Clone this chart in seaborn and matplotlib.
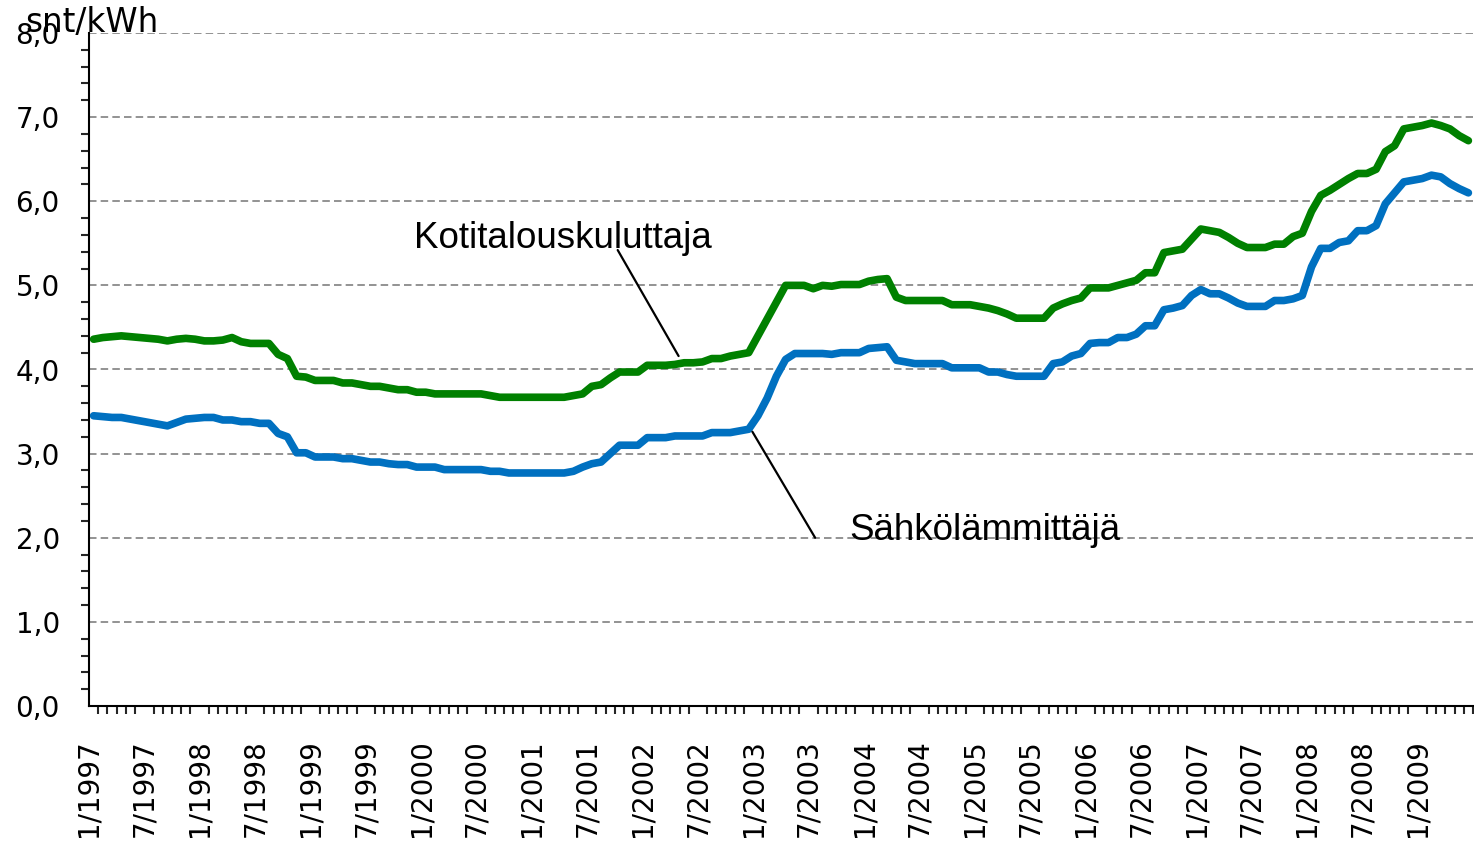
import matplotlib
matplotlib.use("Agg")
import matplotlib.pyplot as plt
import seaborn as sns
import numpy as np
import pandas as pd

# sähkön hinta, snt/kWh, kuukausittain 1/1997 - 6/2009
kotitalous = [
    4.36, 4.38, 4.39, 4.40, 4.39, 4.38, 4.37, 4.36, 4.34, 4.36,
    4.37, 4.36, 4.34, 4.34, 4.35, 4.38, 4.33, 4.31, 4.31, 4.31,
    4.18, 4.13, 3.92, 3.91, 3.87, 3.87, 3.87, 3.84, 3.84, 3.82,
    3.80, 3.80, 3.78, 3.76, 3.76, 3.73, 3.73, 3.71, 3.71, 3.71,
    3.71, 3.71, 3.71, 3.69, 3.67, 3.67, 3.67, 3.67, 3.67, 3.67,
    3.67, 3.67, 3.69, 3.71, 3.80, 3.82, 3.90, 3.97, 3.97, 3.97,
    4.05, 4.05, 4.05, 4.06, 4.08, 4.08, 4.09, 4.13, 4.13, 4.16,
    4.18, 4.20, 4.40, 4.60, 4.80, 5.00, 5.00, 5.00, 4.96, 5.00,
    4.99, 5.01, 5.01, 5.01, 5.05, 5.07, 5.08, 4.86, 4.82, 4.82,
    4.82, 4.82, 4.82, 4.77, 4.77, 4.77, 4.75, 4.73, 4.70, 4.66,
    4.61, 4.61, 4.61, 4.61, 4.73, 4.78, 4.82, 4.85, 4.97, 4.97,
    4.97, 5.00, 5.03, 5.06, 5.15, 5.15, 5.39, 5.41, 5.43, 5.55,
    5.67, 5.65, 5.63, 5.57, 5.50, 5.45, 5.45, 5.45, 5.49, 5.49,
    5.58, 5.62, 5.88, 6.07, 6.13, 6.20, 6.27, 6.33, 6.33, 6.38,
    6.59, 6.66, 6.86, 6.88, 6.90, 6.93, 6.90, 6.86, 6.78, 6.72,
]
sahkolammitys = [
    3.45, 3.44, 3.43, 3.43, 3.41, 3.39, 3.37, 3.35, 3.33, 3.37,
    3.41, 3.42, 3.43, 3.43, 3.40, 3.40, 3.38, 3.38, 3.36, 3.36,
    3.24, 3.20, 3.01, 3.01, 2.96, 2.96, 2.96, 2.94, 2.94, 2.92,
    2.90, 2.90, 2.88, 2.87, 2.87, 2.84, 2.84, 2.84, 2.81, 2.81,
    2.81, 2.81, 2.81, 2.79, 2.79, 2.77, 2.77, 2.77, 2.77, 2.77,
    2.77, 2.77, 2.79, 2.84, 2.88, 2.90, 3.00, 3.10, 3.10, 3.10,
    3.19, 3.19, 3.19, 3.21, 3.21, 3.21, 3.21, 3.25, 3.25, 3.25,
    3.27, 3.29, 3.45, 3.66, 3.92, 4.12, 4.19, 4.19, 4.19, 4.19,
    4.18, 4.20, 4.20, 4.20, 4.25, 4.26, 4.27, 4.11, 4.09, 4.07,
    4.07, 4.07, 4.07, 4.02, 4.02, 4.02, 4.02, 3.97, 3.97, 3.94,
    3.92, 3.92, 3.92, 3.92, 4.07, 4.09, 4.16, 4.19, 4.31, 4.32,
    4.32, 4.38, 4.38, 4.42, 4.52, 4.52, 4.71, 4.73, 4.76, 4.88,
    4.95, 4.90, 4.90, 4.85, 4.79, 4.75, 4.75, 4.75, 4.82, 4.82,
    4.84, 4.88, 5.22, 5.44, 5.44, 5.51, 5.53, 5.65, 5.65, 5.71,
    5.97, 6.10, 6.23, 6.25, 6.27, 6.31, 6.29, 6.21, 6.15, 6.10,
]
kk_labels = [
    '1/1997', '7/1997', '1/1998', '7/1998', '1/1999', '7/1999',
    '1/2000', '7/2000', '1/2001', '7/2001', '1/2002', '7/2002',
    '1/2003', '7/2003', '1/2004', '7/2004', '1/2005', '7/2005',
    '1/2006', '7/2006', '1/2007', '7/2007', '1/2008', '7/2008',
    '1/2009',
]
y_ticks = [0, 1, 2, 3, 4, 5, 6, 7, 8]
y_labels = ['0,0', '1,0', '2,0', '3,0', '4,0', '5,0', '6,0', '7,0', '8,0']

n = len(kotitalous)
df = pd.DataFrame({
    'kk': np.arange(n),
    'Kotitalouskuluttaja': kotitalous,
    'Sähkölämmittäjä': sahkolammitys,
})

sns.set_style('white')
plt.rcParams['font.family'] = ['DejaVu Sans']
plt.rcParams['text.color'] = 'black'

fig = plt.figure(figsize=(14.74, 8.46), dpi=100)
ax = fig.add_axes([89 / 1474, 1 - 706 / 846, 1384 / 1474, 673 / 846])

ax.set_xlim(-0.5, n - 0.5)
ax.set_ylim(0, 8)
ax.set_yticks(y_ticks)
ax.set_yticklabels(y_labels)
ax.set_yticks(np.arange(0, 8.01, 0.2), minor=True)
ax.set_xticks(np.arange(0, n, 6) - 0.5)
ax.set_xticklabels(kk_labels, rotation=90)
ax.set_xticks(np.arange(n + 1) - 0.5, minor=True)

# katkoviivaruudukko
ax.yaxis.grid(True, color='#808080', linestyle=(0, (4.5, 2.5)), lw=1.2)
ax.set_axisbelow(True)

sns.lineplot(data=df, x='kk', y='Kotitalouskuluttaja', color='#008000',
             lw=5.5, ax=ax, solid_capstyle='round')
sns.lineplot(data=df, x='kk', y='Sähkölämmittäjä', color='#0070C0',
             lw=5.5, ax=ax, solid_capstyle='round')
ax.set_xlabel('')
ax.set_ylabel('')

for s in ['top', 'right']:
    ax.spines[s].set_visible(False)
for s in ['left', 'bottom']:
    ax.spines[s].set_color('black')
    ax.spines[s].set_linewidth(1.5)

ax.tick_params(axis='y', which='major', direction='out', length=7, width=1.5,
               labelsize=20, pad=14, colors='black')
ax.tick_params(axis='y', which='minor', direction='out', length=5.5, width=1.5,
               left=True)
ax.tick_params(axis='x', which='major', direction='inout', length=14, width=1.5,
               labelsize=20, pad=17, colors='black')
ax.tick_params(axis='x', which='minor', direction='out', length=6, width=1.5,
               bottom=True)

fig.text(25 / 1474, 1 - 32 / 846, 'snt/kWh', fontsize=23.5, ha='left', va='baseline')

# selitteet viivoineen
ax.text(50.85, 5.56, 'Kotitalouskuluttaja', fontsize=26.5, ha='center', va='center',
        family='Liberation Sans')
ax.annotate('', xy=(63.4, 4.16), xytext=(56.8, 5.42),
            arrowprops=dict(arrowstyle='-', color='black', lw=1.6, shrinkA=0, shrinkB=0))
ax.text(96.6, 2.09, 'Sähkölämmittäjä', fontsize=26.5, ha='center', va='center',
        family='Liberation Sans')
ax.annotate('', xy=(71.4, 3.26), xytext=(78.2, 2.0),
            arrowprops=dict(arrowstyle='-', color='black', lw=1.6, shrinkA=0, shrinkB=0))

fig.savefig('out.png', dpi=100)
